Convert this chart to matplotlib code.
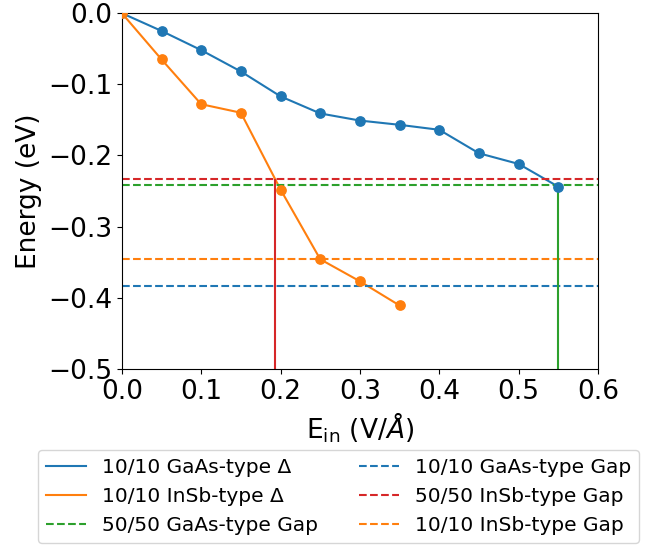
import matplotlib
matplotlib.use('Agg')
import matplotlib.pyplot as plt
import numpy as np

# field values and energy shifts
e_gaas = [0.0, 0.05, 0.1, 0.15, 0.2, 0.25, 0.3, 0.35, 0.4, 0.45, 0.5, 0.55]
d_gaas = [0.0, -0.025, -0.052, -0.082, -0.117, -0.141, -0.151, -0.157, -0.164, -0.197, -0.212, -0.244]
e_insb = [0.0, 0.05, 0.1, 0.15, 0.2, 0.25, 0.3, 0.35]
d_insb = [0.0, -0.065, -0.128, -0.140, -0.248, -0.346, -0.377, -0.411]

# gap levels
gap_gaas_50 = -0.241
gap_gaas_10 = -0.383
gap_insb_50 = -0.233
gap_insb_10 = -0.346

# crossing fields
cross_insb = 0.193
cross_gaas = 0.55

fig = plt.figure(figsize=(6.55, 5.48), dpi=100)
ax = fig.add_axes([0.186, 0.327, 0.727, 0.649])

# lines only in the legend, markers added separately
ax.plot(e_gaas, d_gaas, color='tab:blue', label='10/10 GaAs-type Δ')
ax.plot(e_insb, d_insb, color='tab:orange', label='10/10 InSb-type Δ')
ax.axhline(gap_gaas_50, color='tab:green', ls='--', label='50/50 GaAs-type Gap')
ax.axhline(gap_gaas_10, color='tab:blue', ls='--', label='10/10 GaAs-type Gap')
ax.axhline(gap_insb_50, color='tab:red', ls='--', label='50/50 InSb-type Gap')
ax.axhline(gap_insb_10, color='tab:orange', ls='--', label='10/10 InSb-type Gap')
ax.scatter(e_gaas, d_gaas, color='tab:blue', s=45, zorder=3)
ax.scatter(e_insb, d_insb, color='tab:orange', s=45, zorder=3)

ax.vlines(cross_insb, -0.5, gap_insb_50, color='tab:red')
ax.vlines(cross_gaas, -0.5, gap_gaas_50, color='tab:green')

ax.set_xlim(0, 0.6)
ax.set_ylim(-0.5, 0)
ax.tick_params(labelsize=19)
ax.set_xlabel(r'E$_{\rm in}$ (V/$\AA$)', fontsize=19)
ax.set_ylabel('Energy (eV)', fontsize=19)

ax.legend(loc='upper left', bbox_to_anchor=(0.058, 0.179), bbox_transform=fig.transFigure,
          borderaxespad=0, ncol=2, fontsize=14.5)

plt.savefig('out.png', dpi=100)
